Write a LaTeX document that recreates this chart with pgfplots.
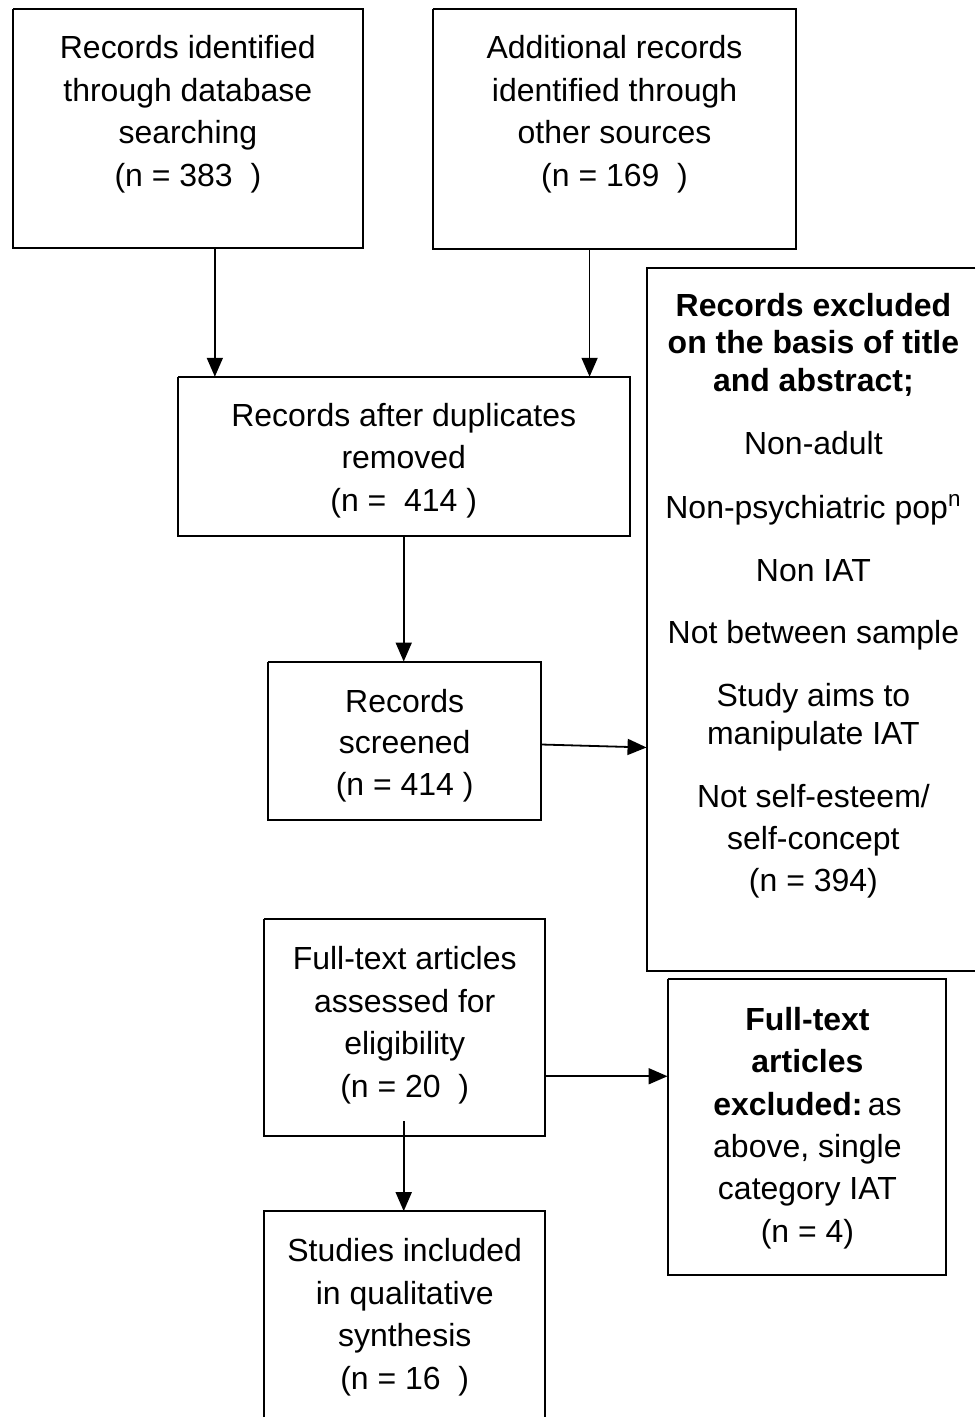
\documentclass[border=0pt]{standalone}
\usepackage{pgfplots}
\pgfplotsset{compat=1.18}
\usepackage{fontspec}
\setmainfont{Liberation Sans}
\usetikzlibrary{arrows.meta}
\newcommand{\T}[3]{\node[anchor=base,inner sep=0pt,font=\fontsize{16pt}{21.25pt}\selectfont] at (axis cs:#1,#2) {#3};}
\begin{document}
\begin{tikzpicture}
\begin{axis}[
  scale only axis, width=488pt, height=709pt,
  xmin=0, xmax=976, ymin=0, ymax=1418, y dir=reverse,
  hide axis, clip=false]
\path (axis cs:0,0) rectangle (axis cs:976,1418);
% boxes
\addplot[black, line width=1pt, mark=none] coordinates {(13,9) (363,9) (363,248) (13,248) (13,9)};
\addplot[black, line width=1pt, mark=none] coordinates {(433,9) (797,9) (797,249) (433,249) (433,9)};
\addplot[black, line width=1pt, mark=none] coordinates {(178,377) (630,377) (630,536) (178,536) (178,377)};
\addplot[black, line width=1pt, mark=none] coordinates {(268,662) (541,662) (541,821) (268,821) (268,662)};
\addplot[black, line width=1pt, mark=none] coordinates {(976,268) (647,268) (647,972) (976,972)};
\addplot[black, line width=1pt, mark=none] coordinates {(264,920) (545,920) (545,1137) (264,1137) (264,920)};
\addplot[black, line width=1pt, mark=none] coordinates {(668,980) (947,980) (947,1276) (668,1276) (668,980)};
\addplot[black, line width=1pt, mark=none] coordinates {(264,1418) (264,1212) (545,1212) (545,1418)};
% arrows
\addplot[black, line width=0.9pt, mark=none, -{Triangle[length=9.5pt,width=8pt]}] coordinates {(215,248) (215,377)};
\addplot[black, line width=0.9pt, mark=none, -{Triangle[length=9.5pt,width=8pt]}] coordinates {(590,249) (590,377)};
\addplot[black, line width=0.9pt, mark=none, -{Triangle[length=9.5pt,width=8pt]}] coordinates {(404,536) (404,662)};
\addplot[black, line width=0.9pt, mark=none, -{Triangle[length=9.5pt,width=8pt]}] coordinates {(541,745) (647,748)};
\addplot[black, line width=0.9pt, mark=none, -{Triangle[length=9.5pt,width=8pt]}] coordinates {(545,1077) (668,1077)};
\addplot[black, line width=0.9pt, mark=none, -{Triangle[length=9.5pt,width=8pt]}] coordinates {(404,1122) (404,1212)};
% texts
\T{188}{59}{Records identified}
\T{188}{102}{through database}
\T{188}{144}{searching}
\T{188}{187}{(n = 383\ \ )}
\T{615}{59}{Additional records}
\T{615}{102}{identified through}
\T{615}{144}{other sources}
\T{615}{187}{(n = 169\ \ )}
\T{404}{427}{Records after duplicates}
\T{404}{469}{removed}
\T{404}{512}{(n =\ \ 414 )}
\T{405}{713}{Records}
\T{405}{754}{screened}
\T{405}{796}{(n = 414 )}
\T{814}{317}{\bfseries Records excluded}
\T{814}{354}{\bfseries on the basis of title}
\T{814}{392}{\bfseries and abstract;}
\T{814}{455}{Non-adult}
\T{814}{519}{Non-psychiatric pop\textsuperscript{n}}
\T{814}{582}{Non IAT}
\T{814}{644}{Not between sample}
\T{814}{707}{Study aims to}
\T{814}{745}{manipulate IAT}
\T{814}{808}{Not self-esteem/}
\T{814}{850}{self-concept}
\T{814}{892}{(n = 394)}
\T{405}{970}{Full-text articles}
\T{405}{1013}{assessed for}
\T{405}{1055}{eligibility}
\T{405}{1098}{(n = 20\ \ )}
\T{808}{1031}{\bfseries Full-text}
\T{808}{1073}{\bfseries articles}
\T{808}{1116}{\textbf{excluded:}\,as}
\T{808}{1158}{above, single}
\T{808}{1200}{category IAT}
\T{808}{1243}{(n = 4)}
\T{405}{1262}{Studies included}
\T{405}{1305}{in qualitative}
\T{405}{1347}{synthesis}
\T{405}{1390}{(n = 16\ \ )}
\end{axis}
\end{tikzpicture}
\end{document}
